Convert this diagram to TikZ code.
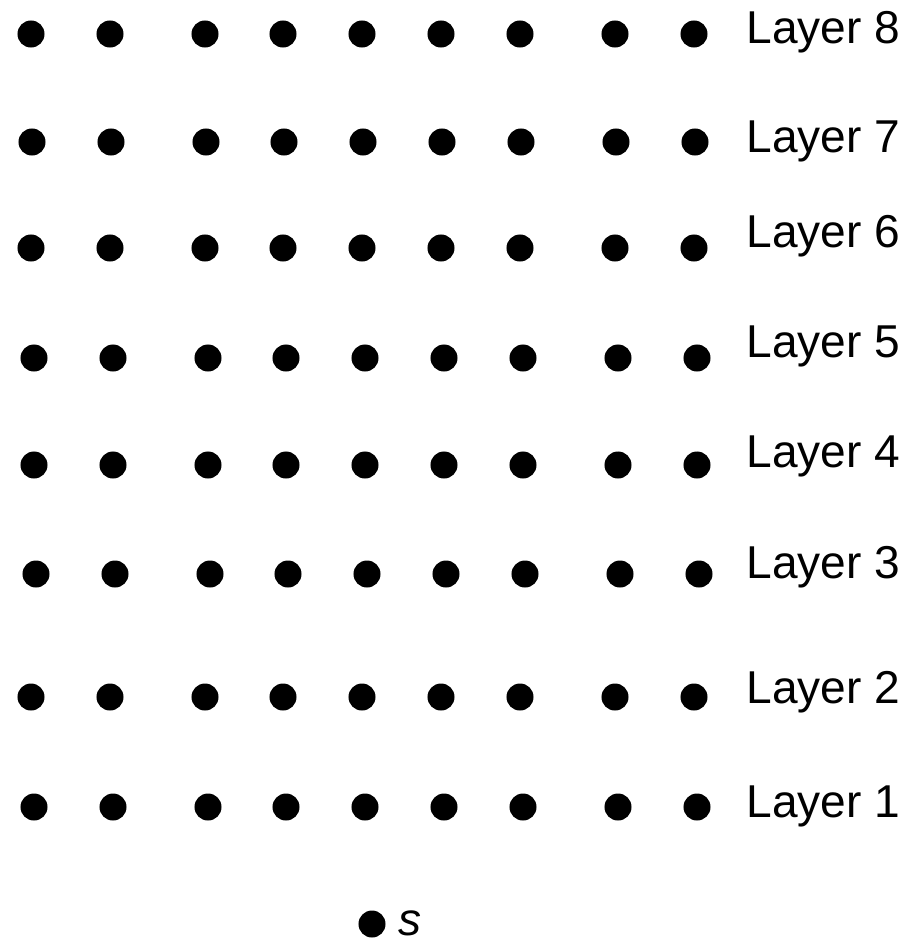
\documentclass[tikz,border=0pt]{standalone}
\usepackage{fontspec}
\setmainfont{Liberation Sans}
\usepackage{tikz}
\usetikzlibrary{positioning}

\begin{document}
\begin{tikzpicture}[
    x=0.01cm, y=-0.01cm,
    dot/.style={circle, fill=black, inner sep=0pt, minimum size=0.27cm},
    lbl/.style={anchor=base west, inner sep=0pt, font=\fontsize{13.1pt}{16pt}\selectfont}
]
\useasboundingbox (0,0) rectangle (916,945);

% Layers of points, top row first
\foreach \r/\y/\dx/\by in {8/34/0/43, 7/142/1/152, 6/248/0/247, 5/358/3/357,
                           4/465/3/467, 3/574/5/578, 2/697/0/703, 1/807/3/817} {
  \foreach \x [count=\c] in {31,110,205,283,362,441,520,615,694}
    \node[dot] (p\r-\c) at (\x+\dx,\y) {};
  \node[lbl] (layer\r) at (746,\by) {Layer \r};
}

% Source point
\node[dot] (src) at (372,924) {};
\node[lbl, font=\fontsize{13.1pt}{16pt}\selectfont\itshape] (srclbl) at (398,935) {s};
\end{tikzpicture}
\end{document}
